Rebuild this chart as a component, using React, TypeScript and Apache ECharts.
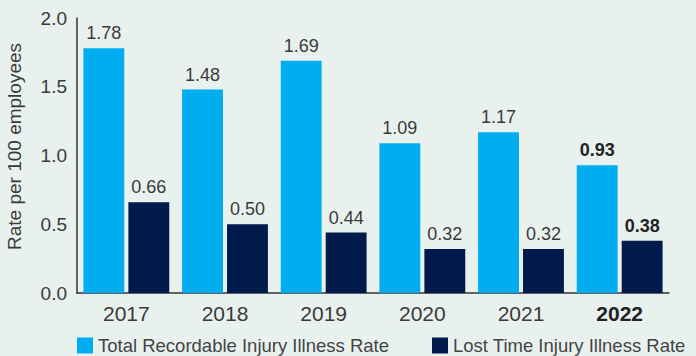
import React, { useEffect, useRef } from "react";
import * as echarts from "echarts";

const years = ["2017", "2018", "2019", "2020", "2021", "2022"];
const trir = [1.78, 1.48, 1.69, 1.09, 1.17, 0.93];
const ltir = [0.66, 0.5, 0.44, 0.32, 0.32, 0.38];
const yTicks = [0, 0.5, 1.0, 1.5, 2.0];
const seriesNames = ["Total Recordable Injury Illness Rate", "Lost Time Injury Illness Rate"];

const FONT = "'Liberation Sans', Arial, sans-serif";
const TXT = "#3a3a3a";

export default function App() {
  const ref = useRef<HTMLDivElement>(null);
  useEffect(() => {
    const chart = echarts.init(ref.current!, null, { renderer: "svg" });
    const last = years.length - 1;
    const mk = (arr: number[]) =>
      arr.map((v, i) => ({
        value: v,
        label: i === last ? { fontWeight: "bold" as const, color: "#222" } : undefined,
      }));
    const valueLabel = {
      show: true,
      position: "top",
      distance: 6,
      fontSize: 18,
      color: TXT,
      fontFamily: FONT,
      formatter: (p: any) => p.value.toFixed(2),
    };
    const legendBase = {
      top: 331,
      padding: 5,
      itemWidth: 16,
      itemHeight: 16,
      itemGap: 34,
      icon: "rect",
      textStyle: { fontSize: 18.5, color: "#444", fontFamily: FONT },
    };
    chart.setOption({
      animation: false,
      backgroundColor: "#e9f1ef",
      textStyle: { fontFamily: FONT },
      grid: { left: 77, right: 27, top: 18, bottom: 63, outerBoundsMode: "none", containLabel: false },
      legend: [
        { ...legendBase, left: 72, data: [seriesNames[0]] },
        { ...legendBase, left: 427, data: [seriesNames[1]] },
      ],
      xAxis: {
        type: "category",
        data: years,
        axisLine: { lineStyle: { color: "#333", width: 1.5 } },
        axisTick: { show: false },
        axisLabel: {
          interval: 0,
          fontSize: 21,
          color: TXT,
          margin: 10,
          formatter: (v: string) => (v === years[last] ? `{b|${v}}` : v),
          rich: { b: { fontWeight: "bold", fontSize: 21, color: "#222", fontFamily: FONT } },
        },
      },
      yAxis: {
        type: "value",
        min: yTicks[0],
        max: yTicks[yTicks.length - 1],
        interval: 0.5,
        name: "Rate per 100 employees",
        nameLocation: "middle",
        nameGap: 53,
        nameTextStyle: { fontSize: 19, color: TXT, fontFamily: FONT, padding: [0, 0, 0, 18] },
        axisLine: { show: true, lineStyle: { color: "#333", width: 1.5 } },
        axisTick: { show: false },
        splitLine: { show: false },
        axisLabel: {
          fontSize: 19,
          color: TXT,
          margin: 10,
          padding: [6, 0, 0, 0],
          formatter: (v: number) => v.toFixed(1),
        },
      },
      series: [
        {
          name: seriesNames[0],
          type: "bar",
          data: mk(trir),
          itemStyle: { color: "#00aeef" },
          barGap: "10%",
          barCategoryGap: "13%",
          label: valueLabel,
        },
        {
          name: seriesNames[1],
          type: "bar",
          data: mk(ltir),
          itemStyle: { color: "#001a4b" },
          barGap: "10%",
          barCategoryGap: "13%",
          label: valueLabel,
        },
      ],
    });
    return () => chart.dispose();
  }, []);
  return <div ref={ref} style={{ width: 696, height: 356, position: "absolute", left: 0, top: 0 }} />;
}
